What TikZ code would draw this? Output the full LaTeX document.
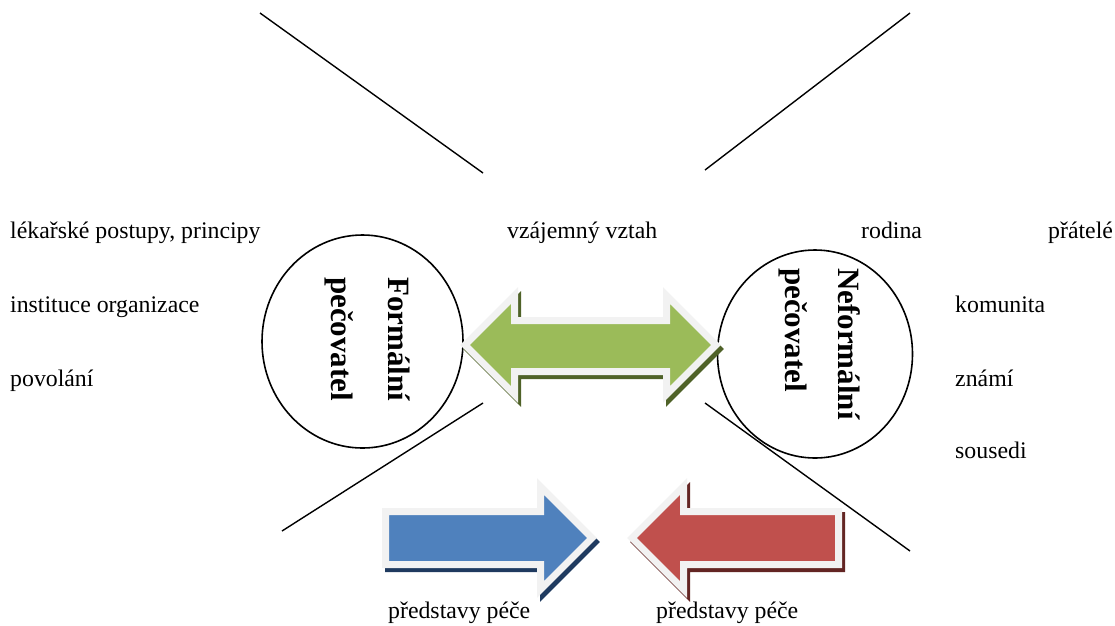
\documentclass[tikz,border=0pt]{standalone}
\usepackage{fontspec}
\setmainfont{Liberation Serif}
\usetikzlibrary{shapes.geometric}
\definecolor{grn}{HTML}{9BBB59}
\definecolor{grnd}{HTML}{4F6228}
\definecolor{blu}{HTML}{4F81BD}
\definecolor{blud}{HTML}{1F3A5F}
\definecolor{redf}{HTML}{C0504D}
\definecolor{redd}{HTML}{632523}
\definecolor{bord}{HTML}{F2F2F2}
\begin{document}
\begin{tikzpicture}[x=1pt,y=-1pt,
  lbl/.style={anchor=base west,inner sep=0pt,font=\fontsize{23.8}{28}\selectfont},
  vlbl/.style={anchor=base west,inner sep=0pt,rotate=-90,font=\fontsize{31}{36}\selectfont\bfseries},
  oval/.style={ellipse,draw,line width=1.6pt,inner sep=0pt},
  ln/.style={line width=1.4pt},
  arrbody/.style={draw=bord,line width=7pt,line join=miter,miter limit=20},
  arrshadow/.style={line width=7pt,line join=miter,miter limit=20}]
\useasboundingbox (0,0) rectangle (1115,625);

% diagonal lines
\coordinate (tl1) at (260,13);  \coordinate (tl2) at (483,173);
\coordinate (tr1) at (910,13);  \coordinate (tr2) at (705,170);
\coordinate (bl1) at (483,403); \coordinate (bl2) at (282,531);
\coordinate (br1) at (705,403); \coordinate (br2) at (910,551);
\draw[ln] (tl1) -- (tl2);
\draw[ln] (tr1) -- (tr2);
\draw[ln] (bl1) -- (bl2);
\draw[ln] (br1) -- (br2);

% ellipses
\node[oval,minimum width=201pt,minimum height=213pt] (lov) at (362.5,341.5) {};
\node[oval,minimum width=195pt,minimum height=208pt] (rov) at (815,354) {};

% vertical labels
\node[vlbl] (lf1) at (388,277) {Formální};
\node[vlbl] (lf2) at (331,277) {pečovatel};
\node[vlbl] (rf1) at (838,268) {Neformální};
\node[vlbl] (rf2) at (785,268) {pečovatel};

% green double arrow
\path[arrshadow,fill=grnd,draw=grnd,shift={(3,4)}]
  (465,345) -- (514.5,295.5) -- (514.5,320.5) -- (666.5,320.5) -- (666.5,295.5)
  -- (716,345) -- (666.5,394.5) -- (666.5,371.5) -- (514.5,371.5) -- (514.5,394.5) -- cycle;
\path[arrbody,fill=grn]
  (465,345) -- (514.5,295.5) -- (514.5,320.5) -- (666.5,320.5) -- (666.5,295.5)
  -- (716,345) -- (666.5,394.5) -- (666.5,371.5) -- (514.5,371.5) -- (514.5,394.5) -- cycle;

% blue arrow
\path[arrshadow,fill=blud,draw=blud,shift={(3,4)}]
  (385.5,511.5) -- (540.5,511.5) -- (540.5,486.5) -- (592,538) -- (540.5,589.5)
  -- (540.5,564.5) -- (385.5,564.5) -- cycle;
\path[arrbody,fill=blu]
  (385.5,511.5) -- (540.5,511.5) -- (540.5,486.5) -- (592,538) -- (540.5,589.5)
  -- (540.5,564.5) -- (385.5,564.5) -- cycle;

% red arrow
\path[arrshadow,fill=redd,draw=redd,shift={(3,4)}]
  (838.5,511.5) -- (683.5,511.5) -- (683.5,486.5) -- (632,538) -- (683.5,589.5)
  -- (683.5,564.5) -- (838.5,564.5) -- cycle;
\path[arrbody,fill=redf]
  (838.5,511.5) -- (683.5,511.5) -- (683.5,486.5) -- (632,538) -- (683.5,589.5)
  -- (683.5,564.5) -- (838.5,564.5) -- cycle;

% text labels
\node[lbl] (t1) at (10,238) {lékařské postupy, principy};
\node[lbl] (t2) at (10,312) {instituce organizace};
\node[lbl] (t3) at (10,386) {povolání};
\node[lbl] (t4) at (507,238) {vzájemný vztah};
\node[lbl] (t5) at (861,238) {rodina};
\node[lbl] (t6) at (1048,238) {přátelé};
\node[lbl] (t7) at (955,312) {komunita};
\node[lbl] (t8) at (955,386) {známí};
\node[lbl] (t9) at (955,458) {sousedi};
\node[lbl] (t10) at (388,618) {představy péče};
\node[lbl] (t11) at (656,618) {představy péče};
\end{tikzpicture}
\end{document}
